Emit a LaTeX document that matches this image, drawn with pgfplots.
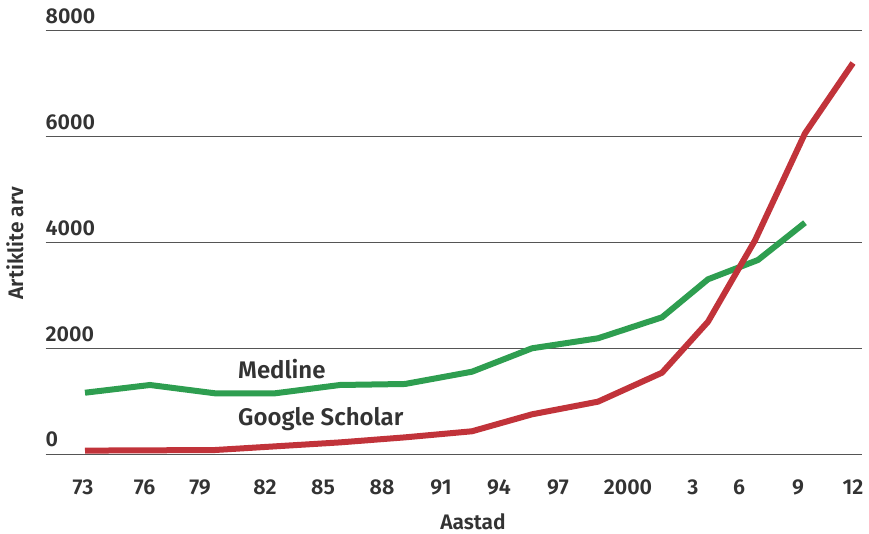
\documentclass[border=0pt]{standalone}
\usepackage{pgfplots}
\pgfplotsset{compat=1.18}
\usepackage{fontspec}
\setmainfont{Fira Sans SemiBold}

\definecolor{medgreen}{RGB}{46,158,80}
\definecolor{gsred}{RGB}{193,51,58}
\definecolor{txt}{RGB}{51,51,51}
\definecolor{gridc}{RGB}{85,85,85}

\begin{document}
\begin{tikzpicture}
    \path[use as bounding box] (0,0) rectangle (869pt,533pt);
    \begin{axis}
        [
            at={(45.5pt,78.7pt)},
            anchor=south west,
            scale only axis,
            width=816.5pt,
            height=423.6pt,
            xmin=45.5, xmax=862,
            ymin=0, ymax=8000,
            clip=false,
            axis line style={draw=none},
            tick style={draw=none},
            ymajorgrids,
            grid style={gridc, line width=1.5pt},
            ytick={0,2000,4000,6000,8000},
            yticklabel style={anchor=base west, inner sep=0pt, yshift=7.4pt,
                font=\fontsize{21.5}{24}\selectfont, text=txt},
            yticklabel={\pgfmathprintnumber[assume math mode=true,1000 sep={}]{\tick}},
            xtick={83,144.5,200,265,323,382,441,499,558,628,693,739,798,853},
            xticklabels={73,76,79,82,85,88,91,94,97,2000,3,6,9,12},
            xticklabel style={anchor=base, inner sep=0pt, yshift=-39.7pt,
                font=\fontsize{21.5}{24}\selectfont, text=txt},
        ]
        % Medline
        \addplot [medgreen, line width=6pt] table {
        85  1163
        150 1309
        215 1152
        275 1152
        340 1309
        405 1328
        472 1560
        532 2002
        598 2191
        662 2587
        708 3305
        758 3670
        805 4374
        };
        % Google Scholar
        \addplot [gsred, line width=6pt] table {
        85  70
        150 75
        215 81
        275 150
        340 225
        405 320
        472 435
        532 755
        598 994
        662 1541
        708 2504
        755 4040
        805 6062
        853 7390
        };
        \node [anchor=base west, inner sep=0pt, text=txt, font=\fontsize{24}{28}\selectfont]
            at (axis cs:238,1436) {Medline};
        \node [anchor=base west, inner sep=0pt, text=txt, font=\fontsize{24}{28}\selectfont]
            at (axis cs:238,552) {Google Scholar};
    \end{axis}
    \node [anchor=base, inner sep=0pt, text=txt, font=\fontsize{21}{24}\selectfont]
        at (473pt,4pt) {Aastad};
    \node [anchor=base, rotate=90, inner sep=0pt, text=txt, font=\fontsize{21}{24}\selectfont]
        at (23pt,290pt) {Artiklite arv};
\end{tikzpicture}
\end{document}
